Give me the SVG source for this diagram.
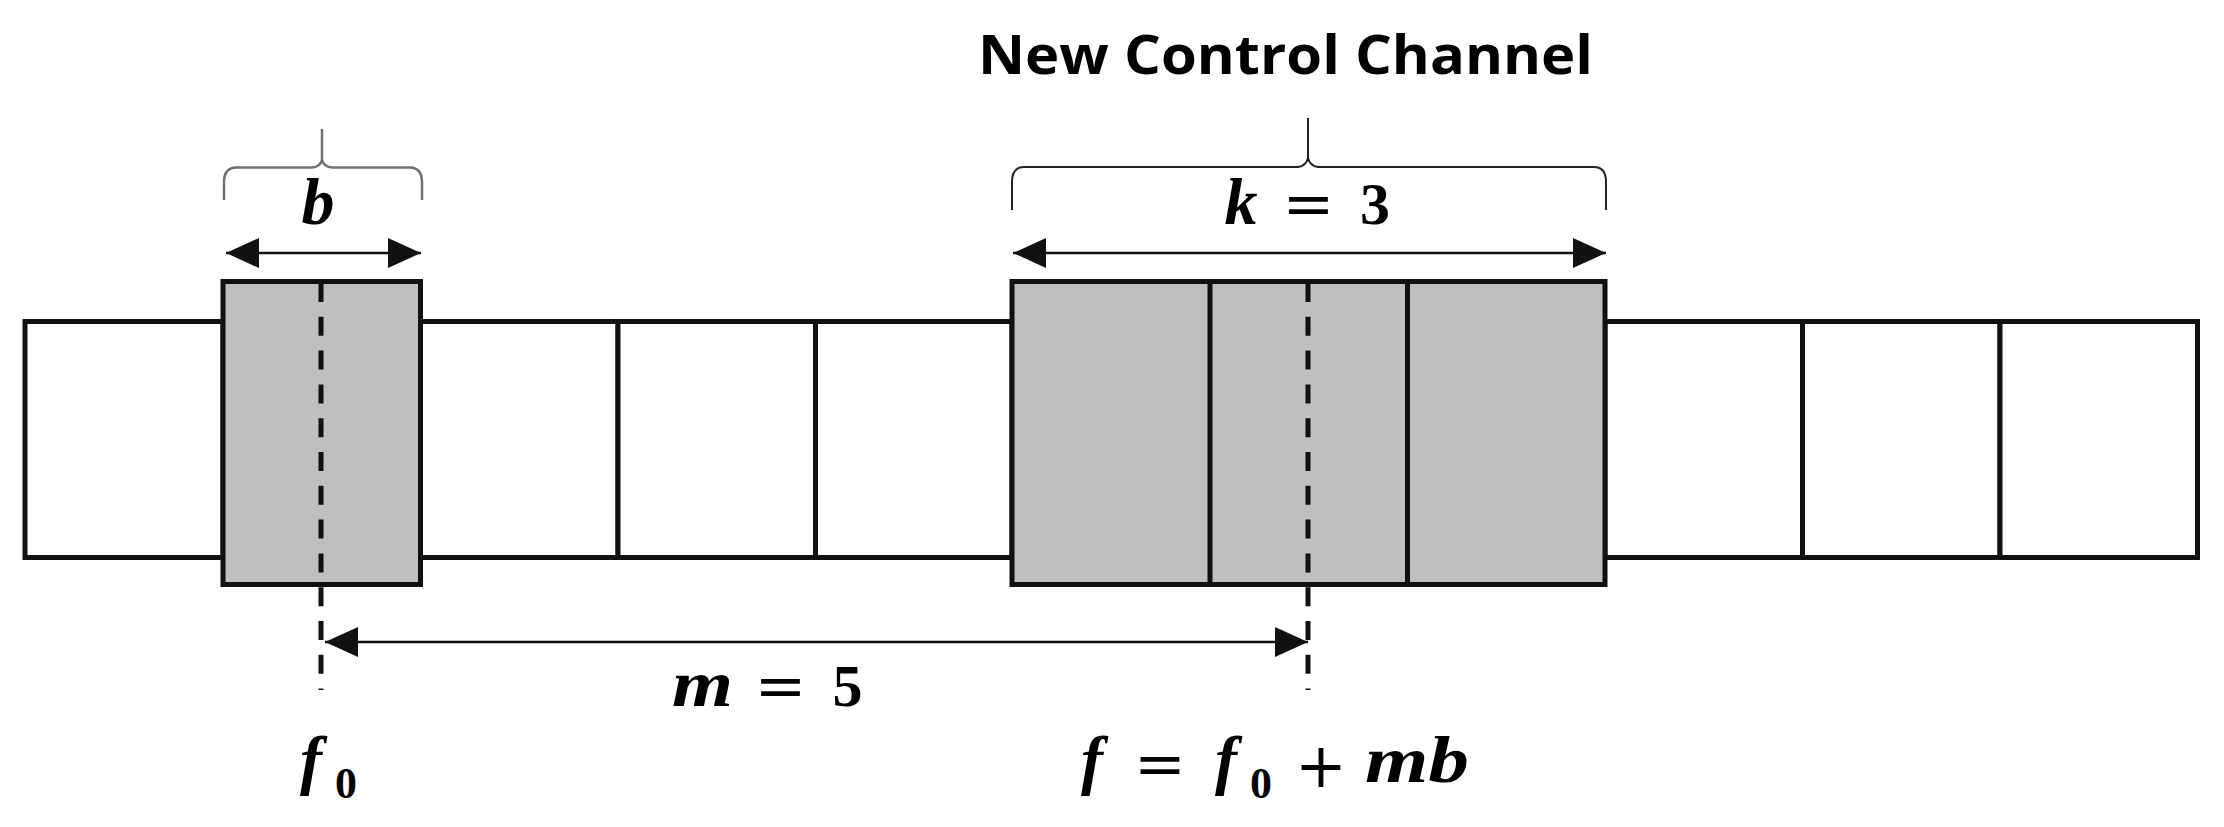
<svg xmlns="http://www.w3.org/2000/svg" width="2224" height="827" viewBox="0 0 2224 827">
<style>
.cell{fill:#ffffff;stroke:#111;stroke-width:5}
.sel{fill:#bfbfbf;stroke:#111;stroke-width:5}
.div{stroke:#111;stroke-width:5}
.dash{stroke:#111;stroke-width:5;stroke-dasharray:19 14.8;fill:none}
.arr{stroke:#111;stroke-width:2.5;fill:none;marker-start:url(#ah);marker-end:url(#ah)}
.brace1{stroke:#707070;stroke-width:2.5;fill:none}
.brace2{stroke:#222;stroke-width:2;fill:none}
.title{font-family:"Open Sans","Liberation Sans",sans-serif;font-weight:bold;font-size:53px;fill:#000}
.mi{font-family:"Liberation Serif",serif;font-weight:bold;font-style:italic;font-size:66px;fill:#000}
.mn{font-family:"Liberation Serif",serif;font-weight:bold;font-size:60px;fill:#000}
.mo{font-family:"DejaVu Serif",serif;font-size:62px;fill:#000}
.sub{font-family:"Liberation Serif",serif;font-weight:bold;font-size:44px;fill:#000}
</style>
<defs>
<marker id="ah" viewBox="0 0 33 30" refX="33" refY="15" markerWidth="33" markerHeight="30" markerUnits="userSpaceOnUse" orient="auto-start-reverse">
<path d="M0,0 L33,15 L0,30 z" fill="#111"/>
</marker>
</defs>
<rect width="2224" height="827" fill="#ffffff"/>

<g id="cells-white">
<rect class="cell" x="25" y="321.5" width="198" height="236"/>
<rect class="cell" x="420.5" y="321.5" width="197.5" height="236"/>
<rect class="cell" x="618" y="321.5" width="197.5" height="236"/>
<rect class="cell" x="815.5" y="321.5" width="196.5" height="236"/>
<rect class="cell" x="1605" y="321.5" width="197.5" height="236"/>
<rect class="cell" x="1802.5" y="321.5" width="197.5" height="236"/>
<rect class="cell" x="2000" y="321.5" width="197.5" height="236"/>
</g>

<g id="node-b">
<rect class="sel" x="223" y="281.5" width="197.5" height="303"/>
</g>

<g id="node-control-channel">
<rect class="sel" x="1012" y="281.5" width="593" height="303"/>
<line class="div" x1="1210" y1="281.5" x2="1210" y2="584.5"/>
<line class="div" x1="1407.5" y1="281.5" x2="1407.5" y2="584.5"/>
</g>

<g id="connectors">
<line class="dash" x1="321" y1="283" x2="321" y2="690"/>
<line class="dash" x1="1308" y1="283" x2="1308" y2="690"/>
<line class="arr" x1="226" y1="253" x2="421" y2="253"/>
<line class="arr" x1="1013" y1="253" x2="1606" y2="253"/>
<line class="arr" x1="325" y1="642" x2="1308" y2="642"/>
<path class="brace1" d="M224,200 L224,182 Q224,168 236,167.5 L312,167.5 Q320,167 322,160 L322,129 M322,129 L322,160 Q324,167 332,167.5 L410,167.5 Q422,168 422,182 L422,200"/>
<path class="brace2" d="M1012,210 L1012,182 Q1012,167 1024,167 L1298,167 Q1306,166 1308,158 L1308,118 M1308,118 L1308,158 Q1310,166 1318,167 L1594,167 Q1606,167 1606,182 L1606,210"/>
</g>

<g id="labels">
<text class="title" x="978" y="74" textLength="615" lengthAdjust="spacingAndGlyphs">New Control Channel</text>
<text class="mi" x="318" y="224" text-anchor="middle">b</text>
<text class="mi" x="1241" y="224" text-anchor="middle">k</text>
<text class="mo" x="1308.5" y="225" text-anchor="middle">=</text>
<text class="mn" x="1375" y="224" text-anchor="middle">3</text>
<text class="mi" x="702.5" y="706" text-anchor="middle" textLength="61" lengthAdjust="spacingAndGlyphs">m</text>
<text class="mo" x="780.5" y="707" text-anchor="middle">=</text>
<text class="mn" x="847.5" y="706" text-anchor="middle">5</text>
<text class="mi" x="311" y="782" text-anchor="middle">f</text>
<text class="sub" x="346" y="798" text-anchor="middle">0</text>
<text class="mi" x="1092" y="782" text-anchor="middle">f</text>
<text class="mo" x="1160" y="785" text-anchor="middle">=</text>
<text class="mi" x="1226" y="782" text-anchor="middle">f</text>
<text class="sub" x="1261" y="798" text-anchor="middle">0</text>
<text class="mo" x="1321" y="787" text-anchor="middle">+</text>
<text class="mi" x="1365" y="782" textLength="104" lengthAdjust="spacingAndGlyphs">mb</text>
</g>
</svg>
